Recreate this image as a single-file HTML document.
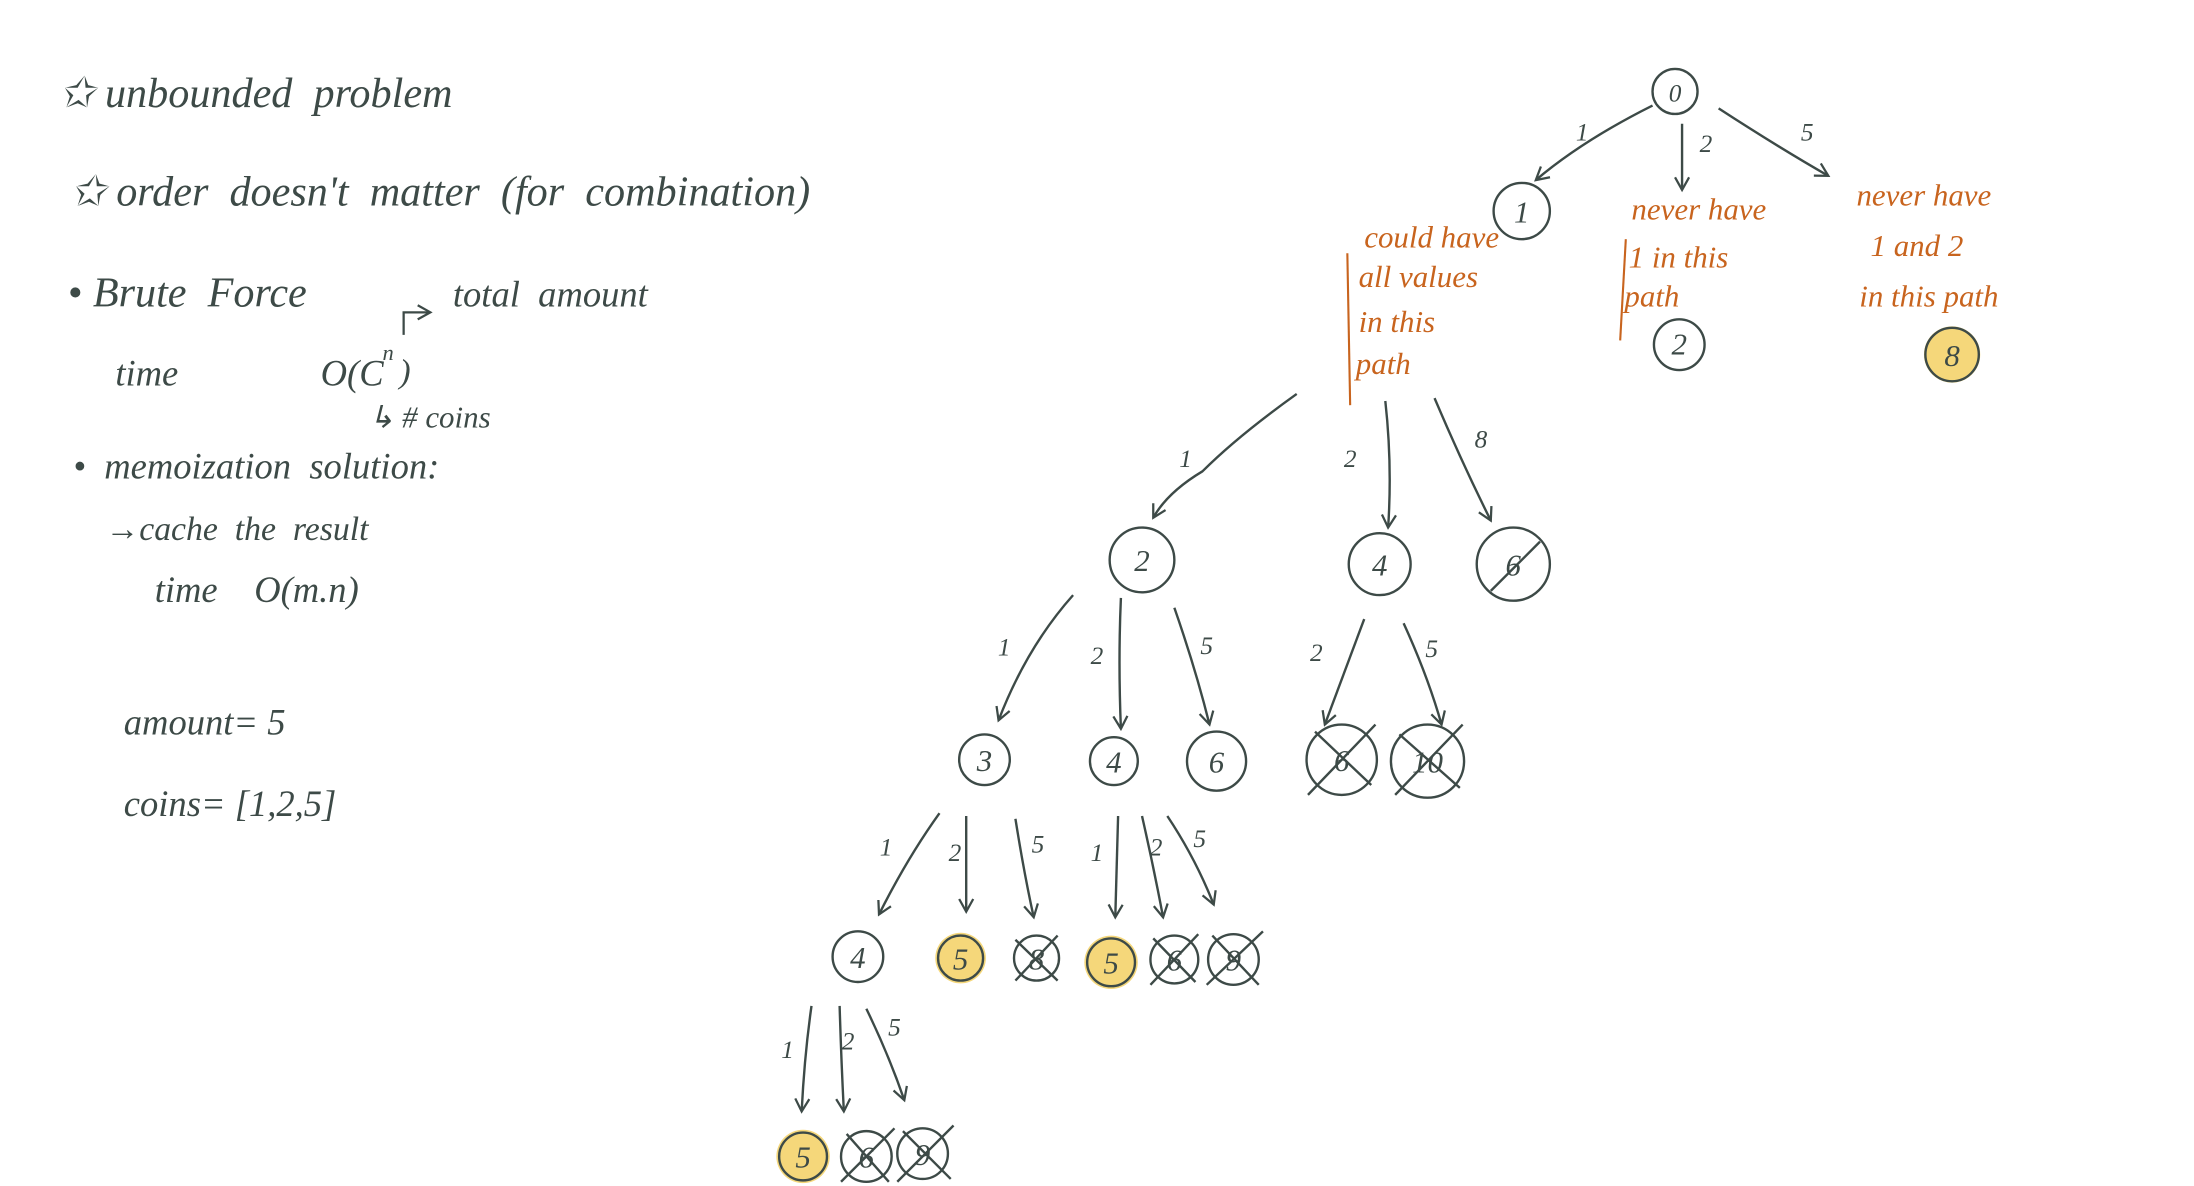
<!DOCTYPE html>
<html><head><meta charset="utf-8">
<style>
html,body{margin:0;padding:0;background:#fff;}
svg{display:block;}
text{font-family:"Liberation Serif",serif;font-style:italic;}
</style></head>
<body>
<svg width="2194" height="1186" viewBox="0 0 1560 843" preserveAspectRatio="none" xmlns="http://www.w3.org/2000/svg">
<defs>
<marker id="a" viewBox="0 0 12 12" refX="10" refY="6" markerWidth="12" markerHeight="12" markerUnits="userSpaceOnUse" orient="auto">
<path d="M1,1 L10,6 L1,11" fill="none" stroke="#3d4a47" stroke-width="1.6"/>
</marker>
</defs>
<rect width="1560" height="843" fill="#fff"/>
<g fill="#3d4a47" font-size="30">
<text x="42" y="76">✩ unbounded &#160;problem</text>
<text x="50" y="146">✩ order &#160;doesn't &#160;matter &#160;(for &#160;combination)</text>
<text x="48" y="218">• Brute &#160;Force</text>
<text x="322" y="218" font-size="26">total &#160;amount</text>
<text x="82" y="274" font-size="26">time</text>
<text x="228" y="274" font-size="26">O(C</text>
<text x="272" y="256" font-size="16">n</text><text x="284" y="272" font-size="24">)</text>
<text x="262" y="304" font-size="22">↳ # coins</text>
<text x="52" y="340" font-size="26">• &#160;memoization &#160;solution:</text>
<text x="75" y="384" font-size="24">→cache &#160;the &#160;result</text>
<text x="110" y="428" font-size="26">time &#160;&#160;&#160;O(m.n)</text>
<text x="88" y="522" font-size="26">amount= 5</text>
<text x="88" y="580" font-size="26">coins= [1,2,5]</text>
</g>
<path d="M287,238 L287,222 L306,222" fill="none" stroke="#3d4a47" stroke-width="1.6" marker-end="url(#a)"/>

<g fill="#c8641e" font-size="22">
<text x="970" y="176">could have</text>
<text x="966" y="204">all values</text>
<text x="966" y="236">in this</text>
<text x="964" y="266">path</text>
<text x="1160" y="156">never have</text>
<text x="1158" y="190">1 in this</text>
<text x="1155" y="218">path</text>
<text x="1320" y="146">never have</text>
<text x="1330" y="182">1 and 2</text>
<text x="1322" y="218">in this path</text>
</g>
<path d="M958,180 L960,288" stroke="#c8641e" stroke-width="1.5" fill="none"/>
<path d="M1156,170 L1152,242" stroke="#c8641e" stroke-width="1.5" fill="none"/>

<g fill="#f5d77a">
<circle cx="1388" cy="252" r="20"/>
<circle cx="683" cy="681" r="18"/>
<circle cx="790" cy="684" r="19"/>
<circle cx="571" cy="822" r="19"/>
</g>

<g fill="none" stroke="#3d4a47" stroke-width="1.7">
<circle cx="1191" cy="65" r="16"/>
<circle cx="1082" cy="150" r="20"/>
<circle cx="1194" cy="245" r="18"/>
<circle cx="1388" cy="252" r="19"/>
<circle cx="812" cy="398" r="23"/>
<circle cx="981" cy="401" r="22"/>
<circle cx="1076" cy="401" r="26"/>
<circle cx="700" cy="540" r="18"/>
<circle cx="792" cy="541" r="17"/>
<circle cx="865" cy="541" r="21"/>
<circle cx="954" cy="540" r="25"/>
<circle cx="1015" cy="541" r="26"/>
<circle cx="610" cy="680" r="18"/>
<circle cx="683" cy="681" r="16"/>
<circle cx="737" cy="681" r="16"/>
<circle cx="790" cy="684" r="17"/>
<circle cx="835" cy="682" r="17"/>
<circle cx="877" cy="682" r="18"/>
<circle cx="571" cy="822" r="17"/>
<circle cx="616" cy="822" r="18"/>
<circle cx="656" cy="820" r="18"/>
<path d="M1060,420 L1095,385"/>
<path d="M930,565 L978,515 M935,520 L975,558"/>
<path d="M992,565 L1040,515 M995,522 L1038,560"/>
<path d="M722,697 L752,665 M722,668 L752,697"/>
<path d="M818,700 L852,664 M820,667 L850,698"/>
<path d="M858,700 L898,662 M862,665 L895,700"/>
<path d="M598,840 L636,802 M602,806 L632,840"/>
<path d="M638,840 L678,800 M642,804 L676,838"/>
</g>

<g fill="#3d4a47" font-size="22" text-anchor="middle">
<text x="1191" y="72" font-size="18">0</text>
<text x="1082" y="158">1</text>
<text x="1194" y="252">2</text>
<text x="1388" y="260">8</text>
<text x="812" y="406">2</text>
<text x="981" y="409">4</text>
<text x="1076" y="409">6</text>
<text x="700" y="548">3</text>
<text x="792" y="549">4</text>
<text x="865" y="549">6</text>
<text x="954" y="548">6</text>
<text x="1015" y="549">10</text>
<text x="610" y="688">4</text>
<text x="683" y="689">5</text>
<text x="737" y="689">8</text>
<text x="790" y="692">5</text>
<text x="835" y="690">6</text>
<text x="877" y="690">9</text>
<text x="571" y="830">5</text>
<text x="616" y="830">6</text>
<text x="656" y="828">9</text>
</g>

<g fill="none" stroke="#3d4a47" stroke-width="1.7" marker-end="url(#a)">
<path d="M1175,75 Q1125,100 1092,128"/>
<path d="M1196,88 L1196,135"/>
<path d="M1222,77 Q1265,105 1300,125"/>
<path d="M922,280 Q880,310 855,335 Q830,350 820,368"/>
<path d="M985,285 Q990,330 987,375"/>
<path d="M1020,283 Q1040,330 1060,370"/>
<path d="M763,423 Q730,460 710,512"/>
<path d="M797,425 Q795,470 797,518"/>
<path d="M835,432 Q850,475 860,515"/>
<path d="M970,440 Q955,480 942,515"/>
<path d="M998,443 Q1015,480 1025,515"/>
<path d="M668,578 Q645,610 625,650"/>
<path d="M687,580 L687,648"/>
<path d="M722,582 Q728,620 735,652"/>
<path d="M795,580 L793,652"/>
<path d="M812,580 Q820,615 827,652"/>
<path d="M830,580 Q850,610 863,643"/>
<path d="M577,715 Q572,750 570,790"/>
<path d="M597,715 Q598,750 600,790"/>
<path d="M616,717 Q632,750 643,782"/>
</g>

<g fill="#3d4a47" font-size="18" text-anchor="middle">
<text x="1125" y="100">1</text>
<text x="1213" y="108">2</text>
<text x="1285" y="100">5</text>
<text x="843" y="332">1</text>
<text x="960" y="332">2</text>
<text x="1053" y="318">8</text>
<text x="714" y="466">1</text>
<text x="780" y="472">2</text>
<text x="858" y="465">5</text>
<text x="936" y="470">2</text>
<text x="1018" y="467">5</text>
<text x="630" y="608">1</text>
<text x="679" y="612">2</text>
<text x="738" y="606">5</text>
<text x="780" y="612">1</text>
<text x="822" y="608">2</text>
<text x="853" y="602">5</text>
<text x="560" y="752">1</text>
<text x="603" y="746">2</text>
<text x="636" y="736">5</text>
</g>
</svg>
</body></html>
